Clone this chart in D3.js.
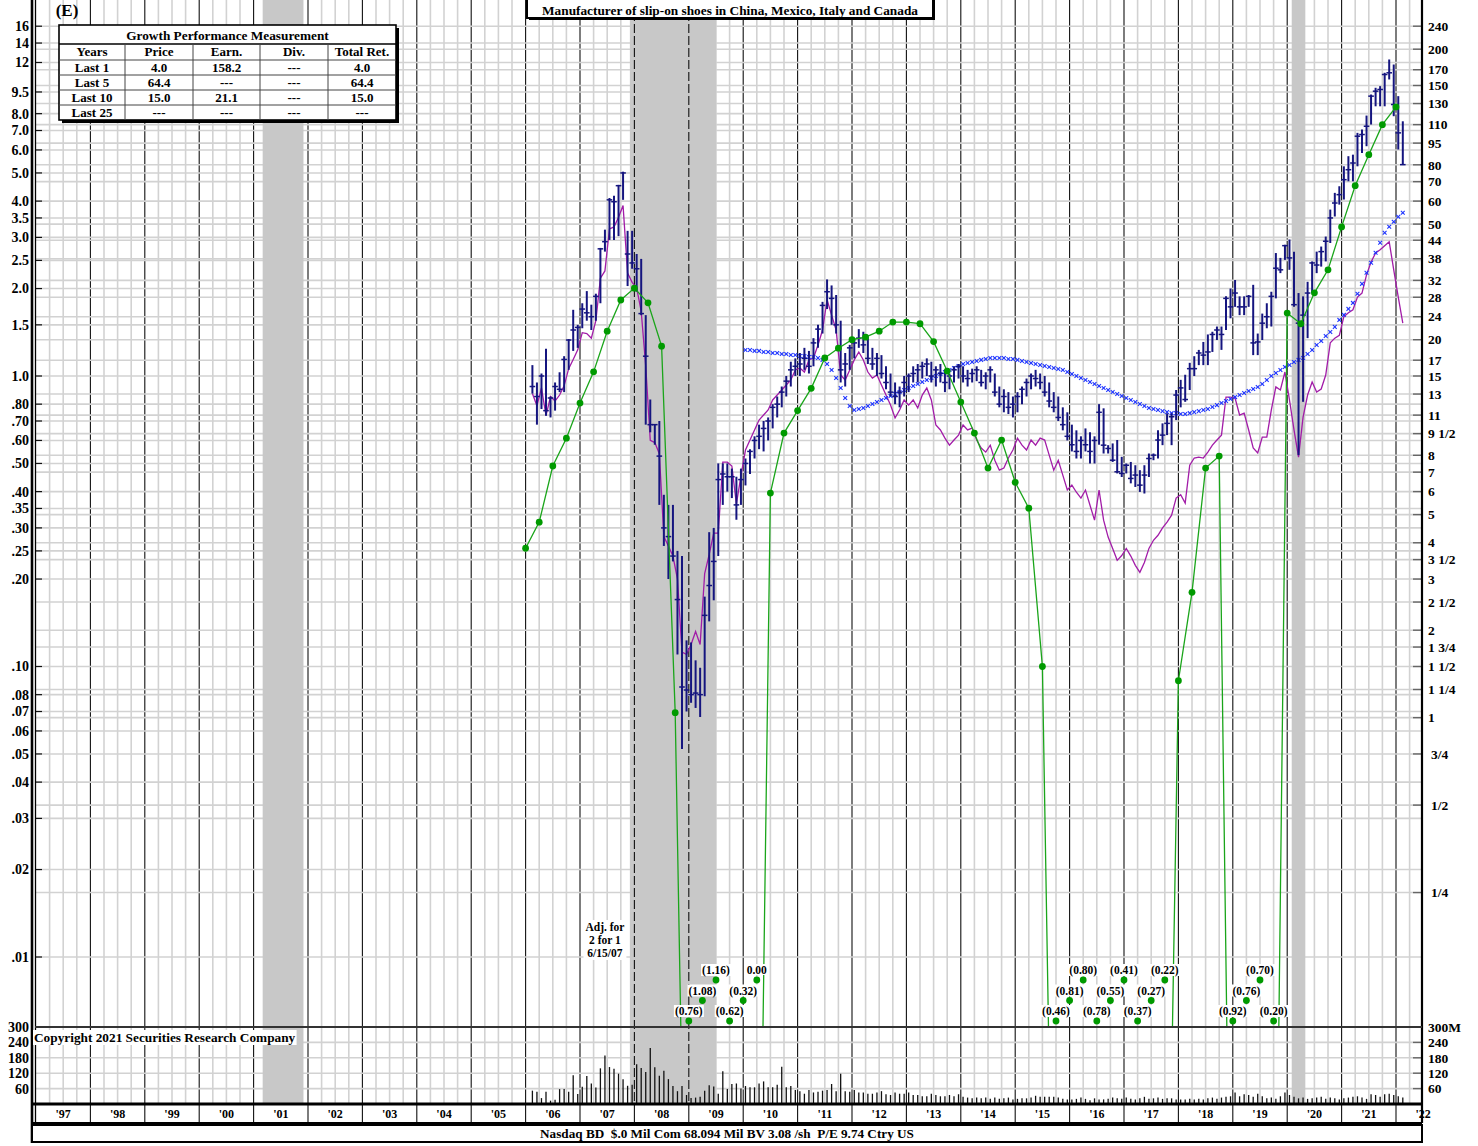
<!DOCTYPE html>
<html><head><meta charset="utf-8">
<script src="https://cdn.jsdelivr.net/npm/d3@7"></script>
<style>
body{margin:0;background:#fff;}
svg{display:block;font-family:"Liberation Serif","Times New Roman",serif;font-weight:bold;}
</style></head><body>
<svg id="c" width="1478" height="1146"></svg>
<script>
// ---------------- DATA ----------------
const priceStart = {year: 2006, month: 2}; // first monthly bar: Feb 2006
const priceHigh = [
 1.09,.95,1.02,1.24,.85,.95,1.03,1.17,1.34,1.69,1.50,
 1.78,1.96,1.76,1.92,2.76,3.19,4.10,4.17,4.55,5.05,3.16,3.16,
 2.63,2.53,1.62,.83,.68,.70,.39,.36,.36,.25,.24,.123,
 .121,.105,.099,.174,.29,.30,.50,.50,.50,.48,.45,.48,
 .52,.56,.62,.68,.70,.72,.80,.85,.92,1.00,1.12,1.15,
 1.20,1.25,1.22,1.35,1.50,1.80,2.15,2.05,1.90,1.55,1.20,1.28,
 1.35,1.45,1.42,1.35,1.25,1.20,1.18,1.08,1.02,.95,.92,1.00,
 1.02,1.08,1.10,1.12,1.15,1.12,1.08,1.10,1.05,1.02,1.08,1.10,
 1.08,1.05,1.06,1.08,1.05,1.03,1.08,1.02,.92,.90,.88,.85,
 .88,.92,.98,1.02,1.05,1.02,1.00,.95,.88,.85,.78,.75,
 .68,.65,.62,.66,.64,.62,.80,.774,.578,.586,.602,.527,
 .50,.506,.493,.474,.493,.541,.541,.651,.687,.744,.744,.895,
 .97,1.01,1.11,1.17,1.23,1.31,1.39,1.42,1.48,1.48,1.88,2.0,
 2.14,1.88,1.88,1.90,2.06,1.40,1.64,1.78,1.95,2.65,2.55,2.83,
 2.95,2.68,1.93,1.88,2.11,2.48,2.68,2.79,3.02,3.74,4.27,4.50,
 5.27,5.71,5.78,6.87,7.05,7.88,9.31,9.82,9.95,11.06,12.29,11.81,
 9.19,7.53];
const priceLow = [
 .87,.68,.77,.73,.72,.76,.88,.88,1.05,1.22,1.25,
 1.46,1.55,1.44,1.55,1.78,2.68,2.94,2.94,3.03,4.04,2.04,2.34,
 1.95,1.62,.68,.64,.58,.36,.26,.20,.23,.11,.052,.070,
 .075,.072,.067,.079,.143,.169,.24,.36,.40,.38,.32,.36,
 .42,.46,.52,.56,.55,.60,.66,.72,.78,.85,.92,1.00,
 1.00,1.05,1.02,1.08,1.25,1.40,1.70,1.50,1.40,.95,.92,1.05,
 1.15,1.25,1.20,1.10,1.05,1.00,.98,.90,.85,.80,.78,.85,
 .88,.95,.95,.98,1.00,.95,.92,.95,.88,.90,.95,.98,
 .95,.92,.95,.96,.92,.90,.95,.85,.78,.75,.74,.72,
 .75,.80,.85,.90,.92,.90,.85,.78,.75,.70,.65,.60,
 .55,.52,.52,.55,.50,.50,.58,.541,.541,.506,.462,.449,
 .462,.427,.415,.399,.394,.449,.513,.520,.578,.626,.578,.705,
 .78,.815,.895,1.0,1.09,1.09,1.09,1.21,1.33,1.23,1.44,1.58,
 1.73,1.62,1.62,1.73,1.18,1.18,1.33,1.46,1.48,1.85,2.26,2.51,
 2.32,1.73,.534,.815,1.35,1.93,2.26,2.38,2.48,2.87,3.54,3.89,
 4.05,4.68,4.68,5.27,5.86,6.18,7.34,8.48,8.48,8.48,10.49,7.84,
 6.02,5.34];
const priceClose = [
 .92,.85,1.00,.76,.84,.92,.90,1.14,1.33,1.44,1.47,
 1.70,1.65,1.60,1.88,2.74,2.90,4.04,3.98,4.52,5.00,2.63,2.45,
 2.34,1.64,1.17,.68,.68,.53,.30,.28,.24,.17,.085,.083,
 .080,.081,.080,.150,.19,.23,.44,.46,.45,.45,.36,.44,
 .50,.55,.60,.62,.66,.70,.78,.80,.88,.96,1.05,1.08,
 1.10,1.15,1.08,1.30,1.45,1.75,1.95,1.85,1.50,1.05,1.10,1.25,
 1.30,1.35,1.28,1.15,1.10,1.15,1.02,.95,.88,.85,.88,.95,
 1.00,1.02,1.05,1.08,1.10,1.00,1.05,1.02,.95,1.00,1.05,1.08,
 1.00,.98,1.02,1.05,.95,1.00,1.05,.88,.80,.85,.78,.80,
 .85,.90,.95,1.00,.98,.95,.88,.82,.78,.72,.68,.62,
 .58,.55,.60,.58,.55,.60,.75,.578,.563,.513,.468,.462,
 .493,.444,.456,.421,.456,.520,.534,.602,.626,.687,.724,.86,
 .91,.83,1.06,1.06,1.20,1.18,1.21,1.39,1.44,1.39,1.85,1.73,
 1.93,1.73,1.73,1.88,1.30,1.31,1.52,1.60,1.88,2.35,2.32,2.81,
 2.55,1.76,1.52,1.62,1.93,2.45,2.41,2.68,2.91,3.50,3.94,4.21,
 4.74,5.13,5.41,6.69,6.78,7.24,9.19,9.56,9.69,10.91,11.06,8.60,
 6.87,5.34];
// relative strength line (magenta), monthly from Feb 2006
const relStrength = [
 .87,.79,.91,.73,.85,.82,.86,.925,1.06,1.14,1.23,
 1.41,1.40,1.35,1.55,2.17,2.30,3.21,3.26,3.52,3.86,2.26,2.10,
 2.01,1.67,1.08,.60,.59,.54,.28,.26,.24,.20,.112,.110,
 .119,.132,.119,.209,.243,.288,.288,.505,.505,.49,.362,.453,
 .556,.602,.652,.705,.734,.764,.827,.860,.895,.931,.969,1.049,
 1.066,1.032,1.136,1.154,1.279,1.44,1.83,1.62,1.44,1.008,.969,1.049,
 1.136,1.21,1.136,1.032,.984,1.008,.931,.860,.794,.717,.764,.827,
 .794,.827,.776,.86,.909,.827,.678,.652,.611,.578,.602,.626,
 .678,.652,.662,.602,.565,.547,.578,.513,.474,.482,.522,.556,
 .611,.578,.556,.602,.578,.611,.602,.534,.474,.513,.456,.405,
 .421,.398,.380,.405,.359,.319,.405,.319,.279,.255,.232,.241,
 .255,.240,.223,.211,.228,.255,.272,.283,.30,.314,.332,.38,
 .39,.365,.493,.522,.526,.522,.547,.578,.602,.626,.846,.846,
 .84,.734,.745,.652,.565,.543,.616,.616,.764,.917,.895,1.032,
 .827,.652,.526,.722,.86,.953,.881,.902,1.008,1.30,1.35,1.38,
 1.60,1.65,1.69,1.87,1.93,2.23,2.47,2.65,2.72,2.81,2.90,2.32,
 1.87,1.52];
// moving average (blue x markers), monthly from Jan 2010
const maStart = {year: 2010, month: 1};
const movingAvg = [
 1.229,1.229,1.220,1.220,1.210,1.210,1.200,1.200,1.191,1.191,1.181,1.181,
 1.172,1.172,1.163,1.163,1.154,1.136,1.100,1.049,.984,.909,.840,.788,
 .764,.770,.776,.788,.801,.814,.827,.840,.853,.867,.881,.895,
 .909,.924,.938,.953,.969,.984,1.0,1.016,1.032,1.049,1.066,1.083,
 1.100,1.109,1.117,1.126,1.136,1.144,1.154,1.154,1.154,1.154,1.144,1.144,
 1.136,1.126,1.117,1.109,1.100,1.091,1.083,1.074,1.066,1.057,1.049,1.032,
 1.016,1.0,.984,.969,.953,.938,.924,.909,.895,.881,.867,.853,
 .840,.827,.814,.801,.788,.776,.770,.764,.757,.751,.745,.745,
 .740,.740,.745,.751,.757,.764,.770,.782,.794,.807,.820,.833,
 .846,.860,.874,.888,.902,.916,.938,.969,1.0,1.024,1.049,1.074,
 1.091,1.117,1.136,1.154,1.191,1.229,1.279,1.320,1.374,1.418,1.476,1.560,
 1.623,1.702,1.785,1.918,2.076,2.266,2.453,2.656,2.875,3.112,3.265,3.396,
 3.534,3.649];
// quarterly earnings (right-scale units), from 2006.0; null = loss quarter
const epsStart = 2006.0;
const epsValues = [
 3.83,4.71,7.35,9.16,12.1,15.5,21.4,27.4,30.1,26.8,19.0,1.04,
 null,null,null,null,null,null,
 5.93,9.54,11.4,13.6,17.3,18.7,20.0,20.4,21.4,23.0,23.0,22.7,19.7,15.6,12.2,9.54,7.23,9.03,6.46,5.26,1.50,
 null,null,null,null,null,null,null,null,null,
 1.34,2.70,7.23,7.95,
 null,null,null,null,
 24.7,22.7,29.0,34.8,48.9,67.8,86.7,110,126.6];
const lossLabels = ["(0.76)","(1.08)","(1.16)","(0.62)","(0.32)","0.00",
 "(0.46)","(0.81)","(0.80)","(0.78)","(0.55)","(0.41)","(0.37)","(0.27)","(0.22)",
 "(0.92)","(0.76)","(0.70)","(0.20)"];
// monthly volume (millions), from Feb 2006
const volumeValues = [
 52,48,23,48,13,17,58,58,48,112,39,
 67,109,80,64,139,189,144,137,118,96,71,75,
 155,140,125,218,143,110,130,97,70,50,70,35,
 23,25,28,52,73,68,40,128,58,78,80,60,
 70,65,65,80,88,65,65,75,145,65,70,55,
 50,40,55,45,48,52,55,78,50,118,50,48,
 55,45,45,40,40,45,50,38,35,45,40,40,
 45,35,35,30,30,40,35,30,30,35,30,38,
 28,25,22,25,22,25,20,25,20,22,25,18,
 20,22,22,25,32,28,28,28,28,25,20,18,
 18,20,25,20,15,22,18,18,20,25,22,20,
 25,20,18,22,28,20,22,25,20,22,22,18,
 18,18,20,18,20,18,22,25,20,25,28,30,
 45,30,38,35,28,40,30,22,25,20,30,45,
 35,28,22,25,20,22,25,28,20,25,22,18,
 22,25,28,30,25,20,38,35,28,38,40,35,
 30,25];
const recessions = [[2001 + 2/12, 2001 + 11/12], [2007 + 11/12, 2009.5], [2020 + 1/12, 2020 + 4/12]];
const yearLabels = ["'97","'98","'99","'00","'01","'02","'03","'04","'05","'06","'07","'08","'09","'10","'11","'12","'13","'14","'15","'16","'17","'18","'19","'20","'21","'22"];
const firstYear = 1997;
const leftTicks = [16,14,12,9.5,8,7,6,5,4,3.5,3,2.5,2,1.5,1,.8,.7,.6,.5,.4,.35,.3,.25,.2,.1,.08,.07,.06,.05,.04,.03,.02,.01];
const leftTickLabels = ["16","14","12","9.5","8.0","7.0","6.0","5.0","4.0","3.5","3.0","2.5","2.0","1.5","1.0",".80",".70",".60",".50",".40",".35",".30",".25",".20",".10",".08",".07",".06",".05",".04",".03",".02",".01"];
const rightTicks = [240,200,170,150,130,110,95,80,70,60,50,44,38,32,28,24,20,17,15,13,11,9.5,8,7,6,5,4,3.5,3,2.5,2,1.75,1.5,1.25,1,.75,.5,.25];
const rightTickLabels = ["240","200","170","150","130","110","95","80","70","60","50","44","38","32","28","24","20","17","15","13","11","9 1/2","8","7","6","5","4","3 1/2","3","2 1/2","2","1 3/4","1 1/2","1 1/4","1","3/4","1/2","1/4"];
const earnScaleRatio = 15; // right scale value = 15 x left price scale
const volTicks = [300,240,180,120,60];
const tableTitle = "Growth Performance Measurement";
const tableHeader = ["Years","Price","Earn.","Div.","Total Ret."];
const tableRows = [
 ["Last 1","4.0","158.2","---","4.0"],
 ["Last 5","64.4","---","---","64.4"],
 ["Last 10","15.0","21.1","---","15.0"],
 ["Last 25","---","---","---","---"]];
const titleText = "Manufacturer of slip-on shoes in China, Mexico, Italy and Canada";
const footerText = "Nasdaq BD  $.0 Mil Com 68.094 Mil BV 3.08 /sh  P/E 9.74 Ctry US";
const copyrightText = "Copyright 2021 Securities Research Company";
const splitNote = ["Adj. for","2 for 1","6/15/07"];
const splitDate = 2007 + 5.5/12;

// ---------------- LAYOUT ----------------
const svg = d3.select("#c");
const L = 35, R = 1422, PT = 0, PB = 1027, VB = 1104, XB = 1123;
const x = d3.scaleLinear().domain([1997, 2022.5]).range([36, 1423.2]);
const y = d3.scaleLog().domain([0.01, 1]).range([957, 376]);
const yv = d3.scaleLinear().domain([0, 300]).range([VB, PB]);
const GRID = "#d2d2d2";

svg.append("rect").attr("width",1478).attr("height",1146).attr("fill","#fff");
const defs = svg.append("defs");
defs.append("clipPath").attr("id","pclip").append("rect")
  .attr("x",L).attr("y",PT).attr("width",R-L).attr("height",PB-PT);
defs.append("clipPath").attr("id","vclip").append("rect")
  .attr("x",L).attr("y",PB).attr("width",R-L).attr("height",VB-PB);

// quarterly grid
const qLines = d3.range(1997, 2022.5, 0.25).filter(t => Math.abs(t - Math.round(t)) > 0.01);
svg.append("g").selectAll("line").data(qLines).join("line")
  .attr("x1",d=>x(d)).attr("x2",d=>x(d)).attr("y1",PT).attr("y2",VB)
  .attr("stroke",GRID).attr("stroke-width",1.6);

// year lines
const yearBounds = d3.range(1998, 2023);
svg.append("g").selectAll("line").data(yearBounds).join("line")
  .attr("x1",d=>x(d)).attr("x2",d=>x(d)).attr("y1",PT).attr("y2",XB)
  .attr("stroke","#111").attr("stroke-width",1.1);

// horizontal grid (price)
const hVals = Array.from(new Set(leftTicks.concat(rightTicks.map(v=>v/earnScaleRatio))));
svg.append("g").selectAll("line").data(hVals.filter(v=>y(v)>2 && y(v)<PB-2)).join("line")
  .attr("x1",L+1).attr("x2",R).attr("y1",d=>y(d)).attr("y2",d=>y(d))
  .attr("stroke",GRID).attr("stroke-width",1.6);
// volume grid
svg.append("g").selectAll("line").data(volTicks.slice(1)).join("line")
  .attr("x1",L+1).attr("x2",R).attr("y1",d=>yv(d)).attr("y2",d=>yv(d))
  .attr("stroke",GRID).attr("stroke-width",1.6);

// recession shading
svg.append("g").selectAll("rect").data(recessions).join("rect")
  .attr("x",d=>x(d[0])).attr("width",d=>x(d[1])-x(d[0]))
  .attr("y",PT).attr("height",VB-PT).attr("fill","#c8c8c8");
// year lines inside shading (dashed)
const shadedYears = yearBounds.filter(yr => recessions.some(r => yr > r[0] && yr < r[1]));
svg.append("g").selectAll("line").data(shadedYears).join("line")
  .attr("x1",d=>x(d)).attr("x2",d=>x(d)).attr("y1",PT).attr("y2",VB)
  .attr("stroke","#111").attr("stroke-width",1.1).attr("stroke-dasharray","9,3");

// axis ticks
svg.append("g").selectAll("line").data(leftTicks).join("line")
  .attr("x1",L).attr("x2",L+7).attr("y1",d=>y(d)).attr("y2",d=>y(d))
  .attr("stroke","#111").attr("stroke-width",1.2);
svg.append("g").selectAll("line").data(rightTicks).join("line")
  .attr("x1",R-9).attr("x2",R).attr("y1",d=>y(d/earnScaleRatio)).attr("y2",d=>y(d/earnScaleRatio))
  .attr("stroke","#666").attr("stroke-width",1.4);
svg.append("g").selectAll("line").data(volTicks.slice(1)).join("line")
  .attr("x1",R-9).attr("x2",R).attr("y1",d=>yv(d)).attr("y2",d=>yv(d))
  .attr("stroke","#666").attr("stroke-width",1.4);

// ---------------- SERIES ----------------
const monthT = (start, i) => start.year + (start.month - 1 + i + 0.5) / 12;
const plot = svg.append("g").attr("clip-path","url(#pclip)");

// relative strength (magenta)
plot.append("path").datum(relStrength)
  .attr("d", d3.line().x((d,i)=>x(monthT(priceStart,i))).y(d=>y(d)))
  .attr("fill","none").attr("stroke","#a21ca8").attr("stroke-width",1.3);

// moving average x markers
const maG = plot.append("g").attr("stroke","#1f35ff").attr("stroke-width",1.1);
movingAvg.forEach((v,i)=>{
  const cx = x(monthT(maStart,i)), cy = y(v), s = 1.9;
  maG.append("line").attr("x1",cx-s).attr("x2",cx+s).attr("y1",cy-s).attr("y2",cy+s);
  maG.append("line").attr("x1",cx-s).attr("x2",cx+s).attr("y1",cy+s).attr("y2",cy-s);
});

// price bars
const barG = plot.append("g").attr("stroke","#15157f");
priceHigh.forEach((h,i)=>{
  const cx = x(monthT(priceStart,i));
  barG.append("line").attr("x1",cx).attr("x2",cx).attr("y1",y(h)).attr("y2",y(priceLow[i])).attr("stroke-width",2);
  barG.append("line").attr("x1",cx-2.8).attr("x2",cx+2.8).attr("y1",y(priceClose[i])).attr("y2",y(priceClose[i])).attr("stroke-width",1.5);
});

// earnings line
const lossFloor = 0.0025;
const epsPts = epsValues.map((v,q)=>({t: epsStart + q*0.25, v: v===null ? lossFloor : v, loss: v===null}));
plot.append("path").datum(epsPts)
  .attr("d", d3.line().x(d=>x(d.t)).y(d=>y(d.v/earnScaleRatio)))
  .attr("fill","none").attr("stroke","#1aa51a").attr("stroke-width",1.3);
plot.append("g").selectAll("circle").data(epsPts.filter(d=>!d.loss)).join("circle")
  .attr("cx",d=>x(d.t)).attr("cy",d=>y(d.v/earnScaleRatio)).attr("r",3.4).attr("fill","#009a00");

// loss labels at the bottom
const rowY = [1021, 1000.5, 980];
let run = 0, li = 0;
const lossG = svg.append("g");
epsPts.forEach(d=>{
  if (!d.loss) { run = 0; return; }
  const ry = rowY[run % 3]; run++;
  const lab = lossLabels[li++];
  const cx = x(d.t);
  const t = lossG.append("text").attr("x",cx).attr("y",ry-6).attr("text-anchor","middle")
    .attr("font-size",11.5).text(lab);
  const bb = t.node().getBBox();
  lossG.insert("rect","text").attr("x",bb.x-1).attr("y",bb.y).attr("width",bb.width+2).attr("height",bb.height-1).attr("fill","#fff");
  lossG.append("circle").attr("cx",cx).attr("cy",ry).attr("r",3.4).attr("fill","#009a00");
});

// volume bars
svg.append("g").attr("clip-path","url(#vclip)").selectAll("line").data(volumeValues).join("line")
  .attr("x1",(d,i)=>x(monthT(priceStart,i))).attr("x2",(d,i)=>x(monthT(priceStart,i)))
  .attr("y1",yv(0)).attr("y2",d=>yv(d)).attr("stroke","#111").attr("stroke-width",1.3);

// ---------------- FRAME ----------------
const fr = svg.append("g").attr("stroke","#000");
fr.append("line").attr("x1",32).attr("x2",32).attr("y1",0).attr("y2",1143).attr("stroke-width",2.6);
fr.append("line").attr("x1",35.5).attr("x2",35.5).attr("y1",0).attr("y2",XB).attr("stroke-width",1.3);
fr.append("line").attr("x1",R).attr("x2",R).attr("y1",0).attr("y2",XB).attr("stroke-width",2.2);
fr.append("line").attr("x1",L).attr("x2",R).attr("y1",PB).attr("y2",PB).attr("stroke-width",1.8).attr("stroke","#333");
fr.append("line").attr("x1",32).attr("x2",R).attr("y1",VB).attr("y2",VB).attr("stroke-width",3);
fr.append("line").attr("x1",32).attr("x2",R).attr("y1",XB).attr("y2",XB).attr("stroke-width",2);

// ---------------- TEXT ----------------
const tg = svg.append("g").attr("fill","#000");
tg.selectAll("text.l").data(leftTicks).join("text").attr("class","l")
  .attr("x",29).attr("y",d=>y(d)).attr("dy","0.35em").attr("text-anchor","end").attr("font-size",14)
  .text((d,i)=>leftTickLabels[i]);
tg.selectAll("text.r").data(rightTicks).join("text").attr("class","r")
  .attr("x",d=> (d<1 ? 1431 : 1428)).attr("y",d=>y(d/earnScaleRatio)).attr("dy","0.35em").attr("font-size",13.5)
  .text((d,i)=>rightTickLabels[i]);
tg.selectAll("text.vl").data(volTicks).join("text").attr("class","vl")
  .attr("x",29).attr("y",d=>yv(d)).attr("dy","0.35em").attr("text-anchor","end").attr("font-size",14)
  .text(d=>d);
tg.selectAll("text.vr").data(volTicks).join("text").attr("class","vr")
  .attr("x",1428).attr("y",d=>yv(d)).attr("dy","0.35em").attr("font-size",13.5)
  .text((d,i)=> i===0 ? d+"M" : d);
tg.selectAll("text.yr").data(yearLabels).join("text").attr("class","yr")
  .attr("x",(d,i)=>x(firstYear+i+0.5)).attr("y",1118).attr("text-anchor","middle").attr("font-size",12)
  .text(d=>d);

// copyright
const cp = tg.append("text").attr("x",34).attr("y",1042).attr("font-size",13.3).text(copyrightText);
{ const bb = cp.node().getBBox();
  tg.insert("rect","text").attr("x",bb.x-1).attr("y",bb.y).attr("width",bb.width+2).attr("height",bb.height).attr("fill","#fff"); }

// split note
const sn = svg.append("g");
const snT = splitNote.map((s,i)=> sn.append("text").attr("x",x(splitDate)).attr("y",931+i*13).attr("text-anchor","middle").attr("font-size",11.5).text(s));
{ let x0=1e9,y0=1e9,x1=-1e9,y1=-1e9; snT.forEach(t=>{const b=t.node().getBBox(); x0=Math.min(x0,b.x);y0=Math.min(y0,b.y);x1=Math.max(x1,b.x+b.width);y1=Math.max(y1,b.y+b.height);});
  sn.insert("rect","text").attr("x",x0-2).attr("y",y0-1).attr("width",x1-x0+4).attr("height",y1-y0+2).attr("fill","#fff"); }

// title box
const tb = svg.append("g");
tb.append("rect").attr("x",529).attr("y",-3).attr("width",406).attr("height",23).attr("fill","#000");
tb.append("rect").attr("x",527).attr("y",-4).attr("width",406).attr("height",22).attr("fill","#fff").attr("stroke","#000").attr("stroke-width",2);
tb.append("text").attr("x",730).attr("y",15).attr("text-anchor","middle").attr("font-size",13.3).text(titleText);

// (E)
svg.append("text").attr("x",67).attr("y",16).attr("text-anchor","middle").attr("font-size",17).text("(E)");

// performance table
const tbl = svg.append("g");
const colE = [59,125,193,260,328,396];
const rowE = [25,44,60,75,90,105,120];
tbl.append("rect").attr("x",62).attr("y",28).attr("width",colE[5]-colE[0]).attr("height",rowE[6]-rowE[0]).attr("fill","#000");
tbl.append("rect").attr("x",colE[0]).attr("y",rowE[0]).attr("width",colE[5]-colE[0]).attr("height",rowE[6]-rowE[0])
  .attr("fill","#fff").attr("stroke","#000").attr("stroke-width",1.6);
rowE.slice(1,6).forEach((ry,i)=> tbl.append("line").attr("x1",colE[0]).attr("x2",colE[5]).attr("y1",ry).attr("y2",ry)
  .attr("stroke", i===0 ? "#000" : "#444").attr("stroke-width", i===0 ? 1.4 : 1));
colE.slice(1,5).forEach(cx=> tbl.append("line").attr("x1",cx).attr("x2",cx).attr("y1",rowE[1]).attr("y2",rowE[6]).attr("stroke","#444").attr("stroke-width",1));
tbl.append("text").attr("x",(colE[0]+colE[5])/2).attr("y",39.5).attr("text-anchor","middle").attr("font-size",13.3).text(tableTitle);
tableHeader.forEach((h,j)=> tbl.append("text").attr("x",(colE[j]+colE[j+1])/2).attr("y",56).attr("text-anchor","middle").attr("font-size",13).text(h));
tableRows.forEach((r,i)=> r.forEach((c,j)=> tbl.append("text").attr("x",(colE[j]+colE[j+1])/2).attr("y",rowE[i+2]+12).attr("text-anchor","middle").attr("font-size",13).text(c)));

// footer
const ft = svg.append("g");
ft.append("rect").attr("x",32).attr("y",1125).attr("width",R-32).attr("height",17).attr("fill","#fff").attr("stroke","#000").attr("stroke-width",2);
ft.append("text").attr("x",727).attr("y",1138).attr("text-anchor","middle").attr("font-size",13.2).attr("xml:space","preserve").style("white-space","pre").text(footerText);
</script>
</body></html>
